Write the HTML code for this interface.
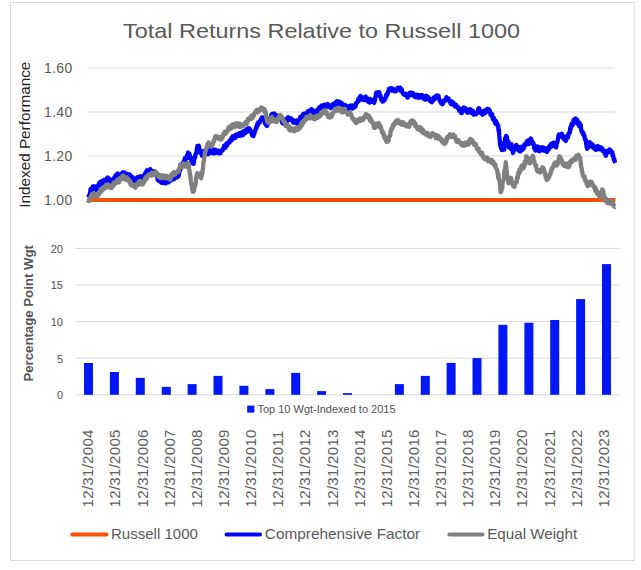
<!DOCTYPE html>
<html><head><meta charset="utf-8">
<style>
html,body{margin:0;padding:0;background:#fff;}
body{width:641px;height:570px;overflow:hidden;font-family:"Liberation Sans",sans-serif;}
svg{display:block;}
text{font-family:"Liberation Sans",sans-serif;}
.title{font-size:21px;fill:#595959;}
.yt{font-size:14px;fill:#595959;letter-spacing:0.3px;}
.yb{font-size:11px;fill:#505050;}
.xl{font-size:15px;fill:#606060;letter-spacing:0.3px;}
.lg{font-size:15px;fill:#595959;}
</style></head>
<body>
<svg width="641" height="570" viewBox="0 0 641 570">
<rect x="0" y="0" width="641" height="570" fill="#fff"/>
<rect x="10.5" y="2.5" width="623.5" height="558" fill="#fff" stroke="#d9d9d9" stroke-width="1"/>
<text class="title" x="321.5" y="38" text-anchor="middle" textLength="397" lengthAdjust="spacingAndGlyphs">Total Returns Relative to Russell 1000</text>

<!-- top chart gridlines -->
<g stroke="#d9d9d9" stroke-width="1">
<line x1="87.7" x2="615" y1="67.9" y2="67.9"/>
<line x1="87.7" x2="615" y1="112" y2="112"/>
<line x1="87.7" x2="615" y1="156" y2="156"/>
<line x1="87.7" x2="615" y1="200" y2="200"/>
</g>
<g class="yt" text-anchor="end">
<text class="yt" x="72.5" y="72.8">1.60</text>
<text class="yt" x="72.5" y="116.9">1.40</text>
<text class="yt" x="72.5" y="160.9">1.20</text>
<text class="yt" x="72.5" y="204.9">1.00</text>
</g>
<text transform="translate(29.8,207.7) rotate(-90)" font-size="15" fill="#1f1f1f" textLength="146" lengthAdjust="spacingAndGlyphs">Indexed Performance</text>

<line x1="88" x2="615.4" y1="200" y2="200" stroke="#ff5000" stroke-width="3.8"/>
<path d="M87.8,197.7 L88.2,197.2 L88.6,196.7 L89.0,195.9 L89.3,195.5 L89.7,193.7 L90.1,193.5 L90.5,189.1 L90.9,189.9 L91.3,189.4 L91.7,190.8 L92.1,189.3 L92.5,189.9 L92.8,186.5 L93.2,187.5 L93.6,186.2 L94.0,186.8 L94.4,187.5 L94.8,188.1 L95.2,186.5 L95.6,187.8 L96.0,188.5 L96.4,189.9 L96.8,190.8 L97.2,189.5 L97.6,186.5 L98.0,188.2 L98.3,185.0 L98.7,186.1 L99.1,183.6 L99.5,182.4 L99.9,185.0 L100.3,182.9 L100.7,181.6 L101.1,181.4 L101.5,184.1 L101.8,183.5 L102.2,181.1 L102.6,183.5 L103.0,181.6 L103.4,181.3 L103.8,181.8 L104.2,179.8 L104.6,182.4 L105.0,181.3 L105.4,182.1 L105.8,181.6 L106.1,179.2 L106.5,179.2 L106.9,178.3 L107.3,178.0 L107.7,177.5 L108.1,179.0 L108.5,178.8 L108.9,180.4 L109.2,178.7 L109.6,181.7 L110.0,181.0 L110.4,182.1 L110.8,181.2 L111.2,182.9 L111.6,181.5 L112.0,180.7 L112.3,181.1 L112.7,181.8 L113.1,179.1 L113.5,180.6 L113.9,181.7 L114.3,177.4 L114.7,179.5 L115.1,179.2 L115.5,175.3 L115.9,177.6 L116.3,175.3 L116.7,175.1 L117.1,175.5 L117.5,173.4 L117.9,173.7 L118.2,174.3 L118.6,177.3 L119.0,174.5 L119.4,176.8 L119.8,175.9 L120.2,177.2 L120.6,177.0 L121.0,174.4 L121.3,174.1 L121.7,174.5 L122.1,175.1 L122.5,172.3 L122.9,173.5 L123.3,174.6 L123.7,175.0 L124.1,175.5 L124.5,172.5 L124.8,176.2 L125.2,173.1 L125.6,174.3 L126.0,175.1 L126.4,175.4 L126.8,176.4 L127.2,174.1 L127.6,176.2 L128.0,174.6 L128.4,174.3 L128.8,174.1 L129.2,174.6 L129.6,174.5 L129.9,174.6 L130.3,175.4 L130.7,177.9 L131.1,179.6 L131.5,178.2 L131.9,177.2 L132.3,177.0 L132.7,180.8 L133.1,179.3 L133.4,179.0 L133.8,178.6 L134.2,180.2 L134.6,181.4 L135.0,180.2 L135.4,180.6 L135.8,180.0 L136.2,178.3 L136.6,181.2 L137.0,177.5 L137.4,179.0 L137.7,180.0 L138.1,177.0 L138.5,178.9 L138.9,179.4 L139.3,177.4 L139.7,178.0 L140.1,178.7 L140.5,176.2 L140.9,177.6 L141.2,176.6 L141.6,179.3 L142.0,177.3 L142.4,178.2 L142.8,177.3 L143.2,178.7 L143.6,177.5 L143.9,177.3 L144.3,174.6 L144.7,174.1 L145.1,174.3 L145.5,172.8 L145.9,172.4 L146.3,171.4 L146.7,171.5 L147.1,170.3 L147.4,170.8 L147.8,172.9 L148.2,172.4 L148.6,170.4 L149.0,171.0 L149.4,170.6 L149.8,170.0 L150.2,169.2 L150.6,169.9 L150.9,172.0 L151.3,172.4 L151.7,170.5 L152.1,172.2 L152.5,171.2 L152.9,172.4 L153.3,172.3 L153.7,172.3 L154.1,172.8 L154.4,171.5 L154.8,172.9 L155.2,171.5 L155.6,172.4 L156.0,173.7 L156.4,172.8 L156.8,175.3 L157.2,175.5 L157.6,179.7 L158.0,179.8 L158.4,180.6 L158.8,180.5 L159.2,178.5 L159.6,180.7 L160.0,179.8 L160.3,181.6 L160.7,181.0 L161.1,182.5 L161.5,182.1 L161.9,182.8 L162.3,181.3 L162.7,182.1 L163.1,182.6 L163.5,182.9 L163.9,183.1 L164.3,181.3 L164.7,183.1 L165.1,183.1 L165.4,182.3 L165.8,183.4 L166.2,183.2 L166.6,181.5 L167.0,181.5 L167.4,181.3 L167.8,179.8 L168.2,182.2 L168.7,182.3 L169.1,180.4 L169.5,181.0 L169.9,180.9 L170.3,180.7 L170.7,178.4 L171.2,180.5 L171.6,179.5 L172.0,179.0 L172.4,179.4 L172.8,178.3 L173.2,178.9 L173.6,179.3 L174.0,178.6 L174.3,178.7 L174.7,175.9 L175.1,176.2 L175.5,177.1 L175.9,177.7 L176.3,175.8 L176.7,176.7 L177.1,177.3 L177.6,177.0 L178.0,174.7 L178.4,176.3 L178.8,174.9 L179.2,172.7 L179.7,170.8 L180.1,169.9 L180.5,169.3 L180.9,167.5 L181.3,166.3 L181.8,164.5 L182.2,164.8 L182.6,163.7 L183.0,162.6 L183.4,163.2 L183.8,162.6 L184.2,160.2 L184.6,163.2 L185.0,158.0 L185.4,159.5 L185.8,159.5 L186.2,157.6 L186.6,157.5 L187.0,155.2 L187.3,158.2 L187.7,155.1 L188.1,152.5 L188.5,154.2 L188.9,155.5 L189.4,153.5 L189.8,156.5 L190.2,156.2 L190.7,158.1 L191.1,158.4 L191.5,161.7 L191.9,161.8 L192.3,160.6 L192.8,163.6 L193.2,163.6 L193.6,163.7 L194.0,160.9 L194.4,157.6 L194.9,157.9 L195.3,155.3 L195.7,153.7 L196.1,153.9 L196.6,152.0 L197.0,148.3 L197.4,145.8 L197.8,145.9 L198.2,149.5 L198.7,145.7 L199.1,147.1 L199.5,150.0 L199.9,151.2 L200.3,152.3 L200.8,150.7 L201.2,154.0 L201.6,154.2 L202.0,155.8 L202.4,152.8 L202.8,152.7 L203.1,151.2 L203.5,151.2 L203.9,154.3 L204.3,150.9 L204.7,151.1 L205.1,153.6 L205.5,153.4 L205.8,151.9 L206.2,150.2 L206.6,154.1 L207.0,151.6 L207.4,151.3 L207.8,150.9 L208.1,154.4 L208.5,152.0 L208.9,152.1 L209.3,150.9 L209.7,151.8 L210.1,149.9 L210.5,152.4 L210.9,151.4 L211.2,150.5 L211.6,152.9 L212.0,153.1 L212.4,148.8 L212.8,151.4 L213.2,151.1 L213.6,149.9 L214.0,153.4 L214.3,152.6 L214.7,149.8 L215.1,150.2 L215.5,149.8 L215.9,153.0 L216.3,150.3 L216.6,151.5 L217.0,151.0 L217.4,151.1 L217.8,151.9 L218.2,152.0 L218.6,152.8 L218.9,150.7 L219.3,153.4 L219.7,151.9 L220.1,153.1 L220.5,153.2 L220.9,151.9 L221.3,151.1 L221.7,151.3 L222.1,150.4 L222.5,149.4 L222.9,150.2 L223.3,148.9 L223.7,147.9 L224.1,145.7 L224.5,146.2 L224.9,146.5 L225.2,147.9 L225.6,147.4 L226.0,145.7 L226.4,143.3 L226.8,144.7 L227.2,145.2 L227.6,143.4 L228.0,143.4 L228.4,143.4 L228.8,142.6 L229.2,141.5 L229.6,142.6 L230.0,140.5 L230.4,139.7 L230.8,139.3 L231.2,140.7 L231.6,137.8 L232.0,137.8 L232.4,139.4 L232.8,136.1 L233.2,137.4 L233.6,138.5 L234.0,137.8 L234.3,136.6 L234.7,135.8 L235.1,137.5 L235.5,137.8 L235.9,134.7 L236.3,135.8 L236.6,135.9 L237.0,135.5 L237.4,135.3 L237.8,134.5 L238.2,133.8 L238.7,135.3 L239.1,136.0 L239.5,133.1 L239.9,133.6 L240.3,135.7 L240.8,135.5 L241.2,134.9 L241.6,134.2 L242.0,132.1 L242.4,134.5 L242.7,135.2 L243.1,135.0 L243.5,133.6 L243.9,130.8 L244.3,133.5 L244.7,130.9 L245.0,132.2 L245.4,133.1 L245.8,131.1 L246.2,131.6 L246.6,129.2 L247.0,129.5 L247.4,131.6 L247.7,128.4 L248.1,129.9 L248.5,128.8 L248.9,128.9 L249.3,128.4 L249.7,131.0 L250.1,129.6 L250.5,130.6 L250.9,132.4 L251.3,132.1 L251.7,132.8 L252.1,135.3 L252.5,135.4 L252.9,135.8 L253.4,136.1 L253.8,133.0 L254.2,134.2 L254.6,132.5 L255.0,130.5 L255.5,130.1 L255.9,128.2 L256.3,126.8 L256.7,127.8 L257.1,125.0 L257.5,123.2 L257.9,124.9 L258.3,122.2 L258.7,123.4 L259.1,122.3 L259.5,121.6 L259.9,122.6 L260.3,120.8 L260.7,120.5 L261.1,118.6 L261.4,119.2 L261.8,117.5 L262.2,118.9 L262.6,117.4 L263.0,118.4 L263.4,117.9 L263.9,119.2 L264.3,120.7 L264.7,122.1 L265.1,123.6 L265.5,122.2 L265.9,124.9 L266.2,125.3 L266.6,123.8 L267.0,126.0 L267.4,125.5 L267.8,122.1 L268.2,121.1 L268.6,121.7 L269.0,119.2 L269.4,119.0 L269.8,119.9 L270.2,118.0 L270.6,116.9 L270.9,118.2 L271.3,114.8 L271.7,116.9 L272.1,113.9 L272.5,115.1 L272.9,113.8 L273.3,116.8 L273.7,115.8 L274.1,114.0 L274.4,113.6 L274.8,116.9 L275.2,115.7 L275.6,115.1 L276.0,117.0 L276.4,115.0 L276.8,117.5 L277.1,117.1 L277.5,117.3 L277.9,119.0 L278.3,118.1 L278.7,118.9 L279.1,117.6 L279.5,117.5 L279.9,116.3 L280.3,117.4 L280.7,119.4 L281.1,119.5 L281.5,120.9 L281.9,120.3 L282.2,122.7 L282.6,122.2 L283.0,123.3 L283.4,123.7 L283.8,123.6 L284.2,123.8 L284.5,122.1 L284.9,120.6 L285.3,119.9 L285.7,121.3 L286.1,119.8 L286.5,118.8 L286.9,121.6 L287.3,119.7 L287.7,120.4 L288.1,117.1 L288.5,118.5 L288.9,118.2 L289.3,120.0 L289.7,119.3 L290.1,118.8 L290.4,119.3 L290.8,118.2 L291.2,118.7 L291.6,119.0 L292.0,120.6 L292.4,120.4 L292.8,120.6 L293.2,122.7 L293.6,120.2 L293.9,120.8 L294.3,121.1 L294.7,120.9 L295.1,121.6 L295.5,121.7 L295.9,122.9 L296.3,122.5 L296.7,120.5 L297.1,123.7 L297.4,121.3 L297.8,123.1 L298.2,121.9 L298.6,121.5 L299.0,120.6 L299.4,119.8 L299.8,121.0 L300.1,117.2 L300.5,118.6 L300.9,116.6 L301.3,116.7 L301.7,117.2 L302.1,117.2 L302.5,114.8 L302.9,114.8 L303.3,113.9 L303.7,114.5 L304.1,113.7 L304.5,115.1 L304.9,114.4 L305.3,116.3 L305.7,113.7 L306.1,113.2 L306.4,113.5 L306.8,112.6 L307.2,114.0 L307.6,112.8 L308.0,113.3 L308.4,110.9 L308.8,110.9 L309.1,112.3 L309.5,113.0 L309.9,111.6 L310.3,110.4 L310.7,110.4 L311.1,112.5 L311.5,109.1 L311.9,109.6 L312.2,112.7 L312.6,111.6 L313.0,110.5 L313.4,112.7 L313.8,112.8 L314.2,114.6 L314.6,112.7 L315.0,111.9 L315.4,110.9 L315.7,110.7 L316.1,113.7 L316.5,112.1 L316.9,112.0 L317.3,113.2 L317.7,109.3 L318.1,109.6 L318.5,108.3 L318.9,109.2 L319.3,107.4 L319.7,107.7 L320.1,108.1 L320.5,107.5 L320.9,107.0 L321.3,105.8 L321.6,105.5 L322.0,108.9 L322.4,105.7 L322.8,106.7 L323.2,106.5 L323.6,106.0 L324.0,106.5 L324.4,104.7 L324.8,105.5 L325.1,104.6 L325.5,106.2 L325.9,107.5 L326.3,106.2 L326.7,107.1 L327.1,105.7 L327.5,104.7 L327.9,104.0 L328.3,106.1 L328.7,106.0 L329.1,106.4 L329.4,105.7 L329.8,106.7 L330.2,107.2 L330.6,108.0 L331.0,106.5 L331.4,105.6 L331.8,105.9 L332.2,107.2 L332.6,104.7 L332.9,104.1 L333.3,104.7 L333.7,103.6 L334.1,105.0 L334.5,105.7 L334.9,105.6 L335.3,103.4 L335.6,102.4 L336.0,101.9 L336.4,102.2 L336.8,101.3 L337.2,102.6 L337.6,102.5 L338.0,103.2 L338.4,102.1 L338.8,101.6 L339.1,104.2 L339.5,101.8 L339.9,102.6 L340.3,103.1 L340.7,103.6 L341.1,104.2 L341.5,102.8 L341.9,104.1 L342.3,103.7 L342.7,105.5 L343.1,104.8 L343.4,106.2 L343.8,105.3 L344.2,105.8 L344.6,105.2 L345.0,105.0 L345.4,105.2 L345.8,107.0 L346.2,106.8 L346.6,108.3 L346.9,107.8 L347.3,108.1 L347.7,106.8 L348.1,108.1 L348.5,109.1 L348.9,107.3 L349.3,106.1 L349.7,105.7 L350.1,105.8 L350.5,106.0 L350.9,107.4 L351.3,106.5 L351.7,106.0 L352.0,105.5 L352.4,108.5 L352.7,108.1 L353.1,108.2 L353.5,105.9 L353.9,105.4 L354.3,105.2 L354.7,105.5 L355.1,106.9 L355.4,106.7 L355.8,104.8 L356.2,102.9 L356.6,103.1 L357.0,102.8 L357.4,101.6 L357.8,100.9 L358.2,99.1 L358.6,100.6 L358.9,100.9 L359.3,99.9 L359.7,96.9 L360.1,97.9 L360.5,95.9 L360.9,96.5 L361.3,97.8 L361.7,97.3 L362.1,99.7 L362.5,99.7 L362.9,97.6 L363.3,99.6 L363.7,98.4 L364.1,100.1 L364.5,97.9 L364.8,97.3 L365.2,96.8 L365.6,96.5 L366.0,98.1 L366.4,99.3 L366.8,98.4 L367.1,100.6 L367.5,99.8 L367.9,98.5 L368.3,101.8 L368.7,101.2 L369.1,100.8 L369.5,99.3 L369.9,102.7 L370.2,99.0 L370.6,101.0 L371.0,100.5 L371.4,102.0 L371.8,100.4 L372.2,100.4 L372.6,100.1 L373.0,100.8 L373.4,100.9 L373.8,102.6 L374.2,102.8 L374.6,100.6 L375.0,100.4 L375.4,96.7 L375.7,95.4 L376.1,93.3 L376.5,92.6 L376.9,94.4 L377.3,93.9 L377.7,93.9 L378.1,93.0 L378.5,92.2 L378.9,92.6 L379.3,92.4 L379.7,96.2 L380.0,96.1 L380.4,95.5 L380.8,97.2 L381.2,99.6 L381.6,98.2 L382.0,100.7 L382.4,101.5 L382.7,99.0 L383.1,101.4 L383.5,100.4 L383.9,99.1 L384.3,99.9 L384.7,100.0 L385.1,98.5 L385.5,98.6 L385.9,96.4 L386.3,94.4 L386.7,95.7 L387.1,94.9 L387.5,94.3 L387.9,91.9 L388.2,91.8 L388.6,90.6 L389.0,88.7 L389.4,88.9 L389.8,88.7 L390.2,88.3 L390.6,88.6 L391.0,89.5 L391.4,88.3 L391.7,90.5 L392.1,89.9 L392.5,90.3 L392.9,88.7 L393.3,89.8 L393.7,90.1 L394.0,90.0 L394.4,91.4 L394.8,90.2 L395.2,91.1 L395.6,91.2 L396.0,91.2 L396.4,90.4 L396.8,89.2 L397.2,88.2 L397.6,89.5 L398.0,87.7 L398.4,88.4 L398.8,89.0 L399.1,89.4 L399.5,89.0 L399.9,87.9 L400.3,87.8 L400.7,90.8 L401.1,89.0 L401.5,91.3 L401.9,89.5 L402.3,91.8 L402.7,93.1 L403.1,93.0 L403.5,94.4 L403.9,94.5 L404.2,94.0 L404.6,94.9 L405.0,94.8 L405.4,94.2 L405.8,94.9 L406.2,93.7 L406.6,95.1 L406.9,96.9 L407.3,94.6 L407.7,97.7 L408.1,96.4 L408.5,96.5 L408.9,95.4 L409.3,93.3 L409.6,94.1 L410.0,92.7 L410.4,93.8 L410.8,92.6 L411.2,94.5 L411.6,94.9 L412.0,94.2 L412.4,93.7 L412.8,93.1 L413.2,95.6 L413.6,95.5 L414.0,95.7 L414.4,96.5 L414.8,95.2 L415.2,97.2 L415.6,94.6 L415.9,95.0 L416.3,94.8 L416.7,96.2 L417.1,95.7 L417.5,97.5 L417.9,95.0 L418.2,97.0 L418.6,97.8 L419.0,96.0 L419.4,97.3 L419.8,95.3 L420.2,96.8 L420.6,97.4 L421.0,97.2 L421.4,96.2 L421.8,95.0 L422.2,95.2 L422.6,95.7 L423.0,96.7 L423.3,98.6 L423.7,96.8 L424.1,98.1 L424.5,97.2 L424.9,98.3 L425.3,99.6 L425.6,96.5 L426.0,95.8 L426.4,96.0 L426.8,97.6 L427.2,97.3 L427.6,98.1 L428.0,96.9 L428.4,97.3 L428.8,99.2 L429.1,99.8 L429.5,100.4 L429.9,100.9 L430.3,98.8 L430.7,100.8 L431.1,101.2 L431.5,102.1 L431.9,102.2 L432.3,99.3 L432.6,101.0 L433.0,99.8 L433.4,100.5 L433.8,97.5 L434.2,98.1 L434.6,98.7 L435.0,99.1 L435.4,97.5 L435.8,95.9 L436.1,96.1 L436.5,95.8 L436.9,95.4 L437.3,95.5 L437.7,97.1 L438.1,96.5 L438.5,95.7 L438.9,98.9 L439.3,99.5 L439.7,100.5 L440.1,101.1 L440.5,101.4 L440.9,102.9 L441.3,102.0 L441.7,103.9 L442.1,102.8 L442.6,104.2 L443.0,101.1 L443.4,102.8 L443.8,100.8 L444.2,100.1 L444.5,100.2 L444.9,100.3 L445.3,100.1 L445.7,100.4 L446.0,100.1 L446.4,97.1 L446.8,98.2 L447.2,98.3 L447.6,99.2 L448.1,99.0 L448.5,98.4 L448.9,100.7 L449.3,100.2 L449.7,101.8 L450.1,101.5 L450.6,103.7 L451.0,104.1 L451.4,102.8 L451.8,101.4 L452.2,104.3 L452.6,104.4 L453.0,103.0 L453.4,102.6 L453.8,104.2 L454.2,103.9 L454.7,105.6 L455.1,106.6 L455.5,104.8 L455.9,104.7 L456.3,105.7 L456.7,106.7 L457.1,106.2 L457.5,107.9 L457.9,107.7 L458.4,107.3 L458.8,108.1 L459.2,110.7 L459.6,110.0 L460.0,108.9 L460.4,110.9 L460.9,110.8 L461.3,113.1 L461.7,113.1 L462.1,110.3 L462.6,109.9 L463.0,108.1 L463.5,108.5 L463.9,107.4 L464.3,109.7 L464.7,108.6 L465.1,108.5 L465.5,111.0 L465.8,108.3 L466.2,109.9 L466.6,112.1 L467.0,109.5 L467.4,111.9 L467.8,112.8 L468.2,111.1 L468.5,109.7 L468.9,110.5 L469.3,111.1 L469.7,110.7 L470.0,111.1 L470.4,109.2 L470.8,110.8 L471.2,110.0 L471.6,113.2 L472.0,111.5 L472.4,111.9 L472.8,110.8 L473.3,111.8 L473.7,114.7 L474.1,114.0 L474.5,113.6 L474.9,112.2 L475.3,114.2 L475.7,113.3 L476.1,114.2 L476.5,112.4 L476.9,112.5 L477.2,113.2 L477.6,111.7 L478.0,111.1 L478.4,108.3 L478.8,109.6 L479.2,108.2 L479.6,111.5 L480.1,110.6 L480.5,112.8 L480.9,113.0 L481.4,113.8 L481.8,112.2 L482.2,113.1 L482.6,114.7 L483.0,113.6 L483.4,113.8 L483.8,110.8 L484.2,112.9 L484.6,111.3 L485.0,113.1 L485.5,113.0 L485.9,109.8 L486.3,110.3 L486.7,109.5 L487.1,110.0 L487.5,109.0 L487.9,109.6 L488.3,110.7 L488.7,109.2 L489.0,109.9 L489.4,111.5 L489.8,110.5 L490.2,112.2 L490.5,114.7 L490.9,115.2 L491.3,114.2 L491.7,113.9 L492.1,114.1 L492.6,118.0 L493.0,119.4 L493.4,118.8 L493.9,117.9 L494.3,119.1 L494.7,121.0 L495.1,123.1 L495.5,123.7 L495.9,120.8 L496.3,121.8 L496.6,123.3 L497.0,123.2 L497.4,125.5 L497.8,124.6 L498.2,125.6 L498.6,131.3 L498.9,129.5 L499.3,136.0 L499.7,139.3 L500.1,145.6 L500.4,145.5 L500.8,142.7 L501.1,148.4 L501.5,145.3 L501.9,150.0 L502.2,147.9 L502.6,148.1 L503.0,149.2 L503.4,149.6 L503.8,148.3 L504.2,149.6 L504.6,141.6 L504.9,142.3 L505.3,137.8 L505.7,138.2 L506.1,135.9 L506.5,139.9 L506.9,136.9 L507.2,141.9 L507.6,145.8 L508.0,146.1 L508.4,141.5 L508.9,147.5 L509.3,144.1 L509.8,144.4 L510.2,143.9 L510.6,146.1 L511.0,149.0 L511.4,144.1 L511.8,149.1 L512.2,148.0 L512.6,151.1 L513.0,153.0 L513.4,151.2 L513.9,148.5 L514.3,148.9 L514.7,148.7 L515.1,148.8 L515.5,149.2 L516.0,145.3 L516.4,145.0 L516.8,145.7 L517.2,147.3 L517.7,149.0 L518.1,149.6 L518.5,150.4 L518.9,147.4 L519.4,147.3 L519.8,149.6 L520.2,151.6 L520.6,146.9 L520.9,148.6 L521.3,149.8 L521.7,148.5 L522.1,147.5 L522.4,150.0 L522.8,146.5 L523.2,147.3 L523.6,147.2 L524.0,148.2 L524.5,144.2 L524.9,144.9 L525.3,145.2 L525.7,145.1 L526.1,142.9 L526.5,143.7 L527.0,141.2 L527.4,141.0 L527.8,142.7 L528.2,141.5 L528.6,140.1 L528.9,144.0 L529.3,140.0 L529.7,139.6 L530.1,141.9 L530.4,141.3 L530.8,138.4 L531.2,139.3 L531.6,142.0 L532.0,142.0 L532.5,141.8 L532.9,144.0 L533.3,143.0 L533.7,144.1 L534.2,148.3 L534.6,147.1 L535.0,148.4 L535.4,150.6 L535.8,146.9 L536.2,146.8 L536.6,146.5 L537.0,150.1 L537.5,149.3 L537.9,146.6 L538.3,146.8 L538.7,151.0 L539.1,149.4 L539.5,149.3 L539.9,151.1 L540.3,147.4 L540.7,149.3 L541.1,147.4 L541.5,149.6 L541.9,149.1 L542.3,149.0 L542.7,147.4 L543.1,148.4 L543.5,150.5 L543.9,147.7 L544.2,147.9 L544.6,150.6 L545.0,148.7 L545.4,149.0 L545.7,150.9 L546.1,151.4 L546.5,151.5 L546.9,151.9 L547.3,150.7 L547.7,147.8 L548.2,149.4 L548.6,149.7 L549.0,146.5 L549.4,148.4 L549.8,146.0 L550.2,146.4 L550.6,145.3 L551.0,143.9 L551.4,146.5 L551.8,145.2 L552.2,146.4 L552.6,144.4 L553.0,142.9 L553.4,142.8 L553.8,142.7 L554.2,143.3 L554.6,145.8 L555.0,143.8 L555.4,144.2 L555.8,146.0 L556.2,147.4 L556.6,143.4 L557.0,143.0 L557.4,141.9 L557.8,140.0 L558.2,137.3 L558.6,135.2 L559.0,134.4 L559.4,135.5 L559.8,135.8 L560.2,134.3 L560.6,134.3 L561.0,135.1 L561.4,136.9 L561.8,133.7 L562.1,134.5 L562.5,135.8 L562.9,136.2 L563.3,136.3 L563.7,138.9 L564.1,138.2 L564.5,139.4 L564.9,139.1 L565.3,140.3 L565.7,141.0 L566.0,140.6 L566.4,137.5 L566.8,136.0 L567.2,136.1 L567.5,135.9 L567.9,137.7 L568.3,135.3 L568.7,133.1 L569.0,133.6 L569.4,132.5 L569.8,132.8 L570.2,127.8 L570.5,129.7 L570.9,126.6 L571.3,126.2 L571.7,123.6 L572.1,125.2 L572.5,125.4 L572.9,123.4 L573.3,122.2 L573.7,119.7 L574.1,123.5 L574.5,120.4 L574.8,121.1 L575.2,121.1 L575.6,118.5 L576.0,119.2 L576.4,119.6 L576.8,120.1 L577.2,119.8 L577.6,120.5 L578.0,124.4 L578.4,124.2 L578.8,124.0 L579.2,126.3 L579.6,122.8 L580.0,124.1 L580.4,125.2 L580.8,125.1 L581.2,129.9 L581.6,130.6 L582.0,132.4 L582.4,132.0 L582.8,133.3 L583.2,132.5 L583.5,134.9 L583.9,135.0 L584.3,135.1 L584.7,138.6 L585.0,138.3 L585.4,140.3 L585.8,140.1 L586.2,143.6 L586.7,147.2 L587.1,148.8 L587.5,148.4 L587.9,147.5 L588.2,145.1 L588.6,147.5 L589.0,143.7 L589.4,144.9 L589.7,142.1 L590.1,143.3 L590.5,145.9 L590.9,144.2 L591.3,144.1 L591.7,143.7 L592.1,145.2 L592.5,145.4 L592.9,147.6 L593.2,145.9 L593.6,145.4 L594.0,147.0 L594.4,148.9 L594.8,147.2 L595.1,148.5 L595.5,148.4 L595.9,149.9 L596.2,147.5 L596.6,149.2 L597.0,148.0 L597.4,146.4 L597.8,146.0 L598.1,149.2 L598.5,147.4 L598.9,147.4 L599.3,147.4 L599.7,149.4 L600.0,148.2 L600.4,148.0 L600.8,147.3 L601.2,149.2 L601.6,148.4 L602.0,148.1 L602.4,149.5 L602.8,151.2 L603.2,151.2 L603.6,151.4 L604.0,150.4 L604.3,151.1 L604.7,153.4 L605.1,154.0 L605.5,152.0 L605.8,155.9 L606.2,154.4 L606.6,152.4 L607.0,152.0 L607.4,151.1 L607.8,151.9 L608.2,152.0 L608.6,152.3 L609.0,150.4 L609.4,149.4 L609.8,151.7 L610.2,149.8 L610.5,151.8 L610.9,150.9 L611.3,151.6 L611.7,152.4 L612.2,152.0 L612.6,155.8 L613.0,154.8 L613.5,157.5 L613.9,159.9 L614.4,159.6 L614.8,162.0 L615.2,163.0" fill="none" stroke="#0000ff" stroke-width="4.3" stroke-linejoin="round" stroke-linecap="butt"/>
<path d="M88.3,203.0 L88.8,201.0 L89.2,198.9 L89.7,199.0 L90.1,197.7 L90.5,196.8 L90.9,197.3 L91.3,197.0 L91.7,194.5 L92.0,193.9 L92.4,196.6 L92.8,194.1 L93.2,193.6 L93.6,196.1 L94.0,193.8 L94.4,194.0 L94.8,195.7 L95.2,194.6 L95.6,195.5 L96.0,194.0 L96.4,196.1 L96.8,197.3 L97.2,196.2 L97.6,195.7 L98.0,195.9 L98.4,195.1 L98.8,192.2 L99.1,194.2 L99.5,193.0 L99.9,191.3 L100.3,191.5 L100.7,189.2 L101.1,191.9 L101.5,189.9 L101.8,190.4 L102.2,190.5 L102.6,189.4 L103.0,189.7 L103.4,187.6 L103.8,187.0 L104.2,188.3 L104.6,186.8 L105.0,188.5 L105.4,188.0 L105.8,184.9 L106.1,184.8 L106.5,184.9 L106.9,187.6 L107.3,185.4 L107.7,185.9 L108.1,185.2 L108.5,184.6 L108.9,185.6 L109.3,185.4 L109.7,185.4 L110.0,186.5 L110.4,186.7 L110.8,188.1 L111.2,186.8 L111.6,187.0 L112.0,187.5 L112.4,186.7 L112.8,186.8 L113.2,185.1 L113.5,182.7 L113.9,184.9 L114.3,184.8 L114.7,184.1 L115.1,182.1 L115.5,182.3 L115.9,182.7 L116.3,180.7 L116.7,183.0 L117.0,181.9 L117.4,180.7 L117.8,179.7 L118.2,181.3 L118.6,182.3 L119.0,182.4 L119.4,178.6 L119.8,180.9 L120.2,179.0 L120.5,177.6 L120.9,177.8 L121.3,179.2 L121.7,179.2 L122.1,177.4 L122.5,175.7 L122.9,177.8 L123.3,175.7 L123.7,178.2 L124.0,176.8 L124.4,178.8 L124.8,179.2 L125.2,177.4 L125.6,177.8 L126.0,180.1 L126.4,177.9 L126.8,177.4 L127.2,179.8 L127.6,178.0 L128.0,179.1 L128.4,180.6 L128.8,180.6 L129.2,181.8 L129.6,180.5 L129.9,180.4 L130.3,183.9 L130.7,182.2 L131.1,185.1 L131.5,183.7 L131.9,185.6 L132.3,184.0 L132.7,184.7 L133.1,185.3 L133.4,186.2 L133.8,186.4 L134.2,186.6 L134.6,186.8 L135.0,186.9 L135.4,187.7 L135.8,185.7 L136.1,185.0 L136.5,185.7 L136.9,183.5 L137.3,183.3 L137.7,183.7 L138.1,185.2 L138.5,183.2 L138.9,183.1 L139.3,180.8 L139.7,182.0 L140.1,182.1 L140.5,182.8 L140.9,181.1 L141.2,183.7 L141.6,184.2 L142.0,182.4 L142.4,184.5 L142.8,184.3 L143.2,183.0 L143.6,183.1 L143.9,181.2 L144.3,181.8 L144.7,181.3 L145.1,177.9 L145.5,179.0 L145.9,176.8 L146.3,178.7 L146.7,179.3 L147.1,176.1 L147.4,176.4 L147.8,176.4 L148.2,174.9 L148.6,175.1 L149.0,174.5 L149.4,174.2 L149.8,174.4 L150.2,175.1 L150.6,173.9 L150.9,174.2 L151.3,175.6 L151.7,172.7 L152.1,174.6 L152.5,174.3 L152.9,175.1 L153.3,173.4 L153.7,173.0 L154.1,175.1 L154.4,172.9 L154.8,172.6 L155.2,173.5 L155.6,174.4 L156.0,172.1 L156.4,173.5 L156.8,173.2 L157.2,173.7 L157.6,176.0 L158.0,174.9 L158.4,176.9 L158.8,174.6 L159.2,175.7 L159.6,176.7 L160.0,177.3 L160.4,178.2 L160.9,176.5 L161.3,175.7 L161.7,175.3 L162.1,176.8 L162.5,175.5 L162.9,177.9 L163.4,178.0 L163.8,175.5 L164.2,176.7 L164.6,175.9 L165.0,178.0 L165.4,177.5 L165.8,178.2 L166.2,176.5 L166.6,175.8 L167.0,176.5 L167.4,177.4 L167.8,178.6 L168.2,176.7 L168.6,177.1 L168.9,177.5 L169.3,177.6 L169.7,177.7 L170.1,179.7 L170.5,178.2 L170.9,176.0 L171.3,174.5 L171.7,177.2 L172.0,176.0 L172.4,175.6 L172.8,172.8 L173.2,172.6 L173.6,174.7 L174.0,174.7 L174.4,172.1 L174.7,174.2 L175.1,174.6 L175.5,174.0 L175.9,173.5 L176.3,173.3 L176.7,172.2 L177.2,172.1 L177.6,171.5 L178.0,170.6 L178.4,172.0 L178.8,170.9 L179.2,168.3 L179.7,168.8 L180.1,164.4 L180.5,164.7 L180.9,166.3 L181.3,165.7 L181.8,166.6 L182.2,166.6 L182.6,166.8 L183.0,165.7 L183.4,163.3 L183.9,166.7 L184.3,164.2 L184.7,165.8 L185.1,164.7 L185.5,166.1 L185.8,165.3 L186.2,164.6 L186.6,166.7 L187.0,165.0 L187.4,163.6 L187.7,163.0 L188.1,165.5 L188.5,163.7 L188.9,166.2 L189.2,170.2 L189.6,170.9 L190.0,174.2 L190.4,175.8 L190.8,180.2 L191.3,184.4 L191.7,184.5 L192.1,188.9 L192.5,190.8 L192.8,191.9 L193.2,191.9 L193.6,191.1 L194.0,191.0 L194.4,185.7 L194.9,186.9 L195.3,184.7 L195.7,183.7 L196.1,177.4 L196.5,175.8 L196.9,174.2 L197.3,173.3 L197.8,174.7 L198.2,174.4 L198.6,174.8 L199.1,176.4 L199.5,175.3 L199.9,173.8 L200.3,174.8 L200.8,175.9 L201.2,178.4 L201.5,174.6 L201.9,172.3 L202.2,174.2 L202.6,170.0 L203.0,168.7 L203.4,162.3 L203.9,161.2 L204.3,157.4 L204.7,155.3 L205.1,152.6 L205.5,150.8 L206.0,150.3 L206.4,148.1 L206.8,145.8 L207.2,144.8 L207.6,143.6 L208.1,143.8 L208.5,142.4 L208.9,143.7 L209.3,144.6 L209.8,145.9 L210.2,145.0 L210.7,144.3 L211.1,146.8 L211.5,144.5 L211.9,144.5 L212.4,144.7 L212.8,144.7 L213.2,142.6 L213.6,140.8 L214.0,141.4 L214.5,139.4 L214.9,137.3 L215.3,136.3 L215.7,136.0 L216.1,136.6 L216.5,137.5 L216.8,136.6 L217.2,137.8 L217.6,137.1 L218.0,137.4 L218.4,136.8 L218.8,138.2 L219.2,139.2 L219.7,137.2 L220.1,138.9 L220.5,139.5 L220.9,138.6 L221.3,139.6 L221.7,139.2 L222.1,136.4 L222.5,137.7 L222.9,136.6 L223.3,134.0 L223.7,134.2 L224.1,133.7 L224.5,132.0 L224.9,134.2 L225.2,133.3 L225.6,133.7 L226.0,133.0 L226.4,132.1 L226.8,131.1 L227.2,131.6 L227.6,130.5 L228.0,128.4 L228.4,129.8 L228.8,127.2 L229.2,127.3 L229.6,129.3 L230.0,127.9 L230.4,125.9 L230.8,125.8 L231.2,125.6 L231.6,128.3 L232.0,125.4 L232.4,124.5 L232.8,127.4 L233.2,125.8 L233.6,124.3 L234.0,126.9 L234.3,126.2 L234.7,126.7 L235.1,127.0 L235.5,125.5 L235.9,126.2 L236.3,123.2 L236.6,125.9 L237.0,124.8 L237.4,124.7 L237.8,125.6 L238.2,123.4 L238.7,126.0 L239.1,126.8 L239.5,123.6 L239.9,124.7 L240.3,125.7 L240.8,126.8 L241.2,124.7 L241.6,125.8 L242.0,124.4 L242.4,124.5 L242.7,125.7 L243.1,126.0 L243.5,124.4 L243.9,124.2 L244.3,124.1 L244.7,123.7 L245.0,123.8 L245.4,122.3 L245.8,123.7 L246.2,123.0 L246.6,124.2 L247.0,121.4 L247.4,122.0 L247.7,119.1 L248.1,120.5 L248.5,120.0 L248.9,118.4 L249.3,118.9 L249.7,118.1 L250.1,117.8 L250.5,118.2 L250.9,119.0 L251.2,115.9 L251.6,115.5 L252.0,117.8 L252.4,118.3 L252.8,116.6 L253.2,116.3 L253.6,115.4 L254.0,115.8 L254.4,113.2 L254.8,112.8 L255.1,111.9 L255.5,112.7 L255.9,111.0 L256.3,111.1 L256.7,109.9 L257.1,111.6 L257.5,112.4 L257.9,109.8 L258.3,111.2 L258.7,109.9 L259.1,111.5 L259.5,110.0 L259.9,110.2 L260.3,108.8 L260.7,108.5 L261.1,107.6 L261.4,109.2 L261.8,108.7 L262.2,107.8 L262.6,108.9 L263.0,108.7 L263.4,108.9 L263.8,110.9 L264.3,108.9 L264.7,112.4 L265.1,110.8 L265.5,111.2 L265.9,113.9 L266.2,115.8 L266.6,119.5 L267.0,120.6 L267.4,122.1 L267.8,121.3 L268.2,121.3 L268.6,122.4 L269.0,123.2 L269.4,122.1 L269.8,120.9 L270.2,121.4 L270.5,121.5 L270.9,118.8 L271.3,117.2 L271.7,117.4 L272.1,116.9 L272.5,119.3 L272.9,119.7 L273.2,121.3 L273.6,121.4 L274.0,120.6 L274.4,119.7 L274.8,119.7 L275.2,120.0 L275.6,119.9 L276.0,122.0 L276.4,121.3 L276.8,122.0 L277.2,121.5 L277.5,118.4 L277.9,120.1 L278.3,117.3 L278.7,117.4 L279.1,116.9 L279.5,117.8 L279.9,115.1 L280.3,114.9 L280.7,117.4 L281.1,115.9 L281.5,116.0 L281.9,117.2 L282.2,118.9 L282.6,120.2 L283.0,118.5 L283.4,121.3 L283.8,121.2 L284.2,122.0 L284.6,122.7 L284.9,122.1 L285.3,124.1 L285.7,126.0 L286.1,124.3 L286.5,125.2 L286.9,125.8 L287.3,124.6 L287.7,125.5 L288.1,127.4 L288.4,125.7 L288.8,129.1 L289.2,129.6 L289.6,128.4 L290.0,127.1 L290.4,130.5 L290.8,128.5 L291.2,130.2 L291.6,130.3 L292.0,128.7 L292.4,130.4 L292.8,129.9 L293.2,130.4 L293.6,130.9 L294.0,128.7 L294.4,130.5 L294.7,131.2 L295.1,130.0 L295.5,129.3 L295.9,129.1 L296.3,127.6 L296.7,129.1 L297.1,128.5 L297.4,129.9 L297.8,129.8 L298.2,129.4 L298.6,127.9 L299.0,129.1 L299.4,128.9 L299.8,128.1 L300.1,125.6 L300.5,127.5 L300.9,125.9 L301.3,124.5 L301.7,122.6 L302.1,125.2 L302.5,121.7 L302.9,121.9 L303.3,122.9 L303.7,121.9 L304.1,121.3 L304.5,120.6 L304.9,120.8 L305.3,119.6 L305.7,118.7 L306.1,117.8 L306.4,117.0 L306.8,119.0 L307.2,118.8 L307.6,117.4 L308.0,117.5 L308.4,118.1 L308.8,116.6 L309.1,116.2 L309.5,116.5 L309.9,118.3 L310.3,115.0 L310.7,116.7 L311.1,116.9 L311.5,116.1 L311.9,118.3 L312.2,116.9 L312.6,117.0 L313.0,117.5 L313.4,118.2 L313.8,118.2 L314.2,119.1 L314.6,117.4 L315.0,119.2 L315.4,116.3 L315.7,116.8 L316.1,116.1 L316.5,116.0 L316.9,117.4 L317.3,118.2 L317.7,117.7 L318.1,115.3 L318.5,115.1 L318.9,115.6 L319.3,116.6 L319.7,116.6 L320.1,115.1 L320.5,115.7 L320.9,114.7 L321.3,112.6 L321.6,113.2 L322.0,112.0 L322.4,112.9 L322.8,112.6 L323.2,112.0 L323.6,110.9 L324.0,111.1 L324.4,113.1 L324.8,110.2 L325.1,113.2 L325.5,113.5 L325.9,113.7 L326.3,112.0 L326.7,112.2 L327.1,113.5 L327.5,114.3 L327.8,115.1 L328.2,117.1 L328.6,115.9 L329.0,116.7 L329.4,115.4 L329.8,117.7 L330.2,116.4 L330.6,117.0 L331.0,116.7 L331.4,116.9 L331.8,113.5 L332.1,115.8 L332.5,114.7 L332.9,113.4 L333.3,112.8 L333.7,112.4 L334.1,111.7 L334.5,110.2 L334.9,111.0 L335.2,108.6 L335.6,109.9 L336.0,109.9 L336.4,108.9 L336.8,108.8 L337.2,109.3 L337.6,110.9 L338.0,110.7 L338.4,108.0 L338.8,110.5 L339.2,110.0 L339.6,109.6 L340.0,108.1 L340.4,109.5 L340.8,109.2 L341.1,108.8 L341.5,110.7 L341.9,112.4 L342.3,110.3 L342.7,111.2 L343.1,112.2 L343.5,111.2 L343.9,108.7 L344.2,111.0 L344.6,109.7 L345.0,108.9 L345.4,111.5 L345.8,111.7 L346.2,112.7 L346.6,112.8 L347.0,112.3 L347.4,114.1 L347.8,114.7 L348.1,114.5 L348.5,113.0 L348.9,114.3 L349.3,113.4 L349.7,113.5 L350.1,112.6 L350.5,113.0 L350.8,113.8 L351.2,114.9 L351.6,115.3 L352.0,117.2 L352.3,118.6 L352.7,118.6 L353.1,119.1 L353.5,119.1 L353.9,120.3 L354.3,119.3 L354.7,120.2 L355.1,121.7 L355.4,120.6 L355.8,120.1 L356.2,123.2 L356.6,122.8 L357.0,122.3 L357.4,121.5 L357.8,121.2 L358.2,121.5 L358.6,121.5 L358.9,119.8 L359.3,118.6 L359.7,119.1 L360.1,119.9 L360.5,121.0 L360.9,118.5 L361.3,119.7 L361.7,118.7 L362.1,118.8 L362.5,118.6 L362.9,119.5 L363.3,119.9 L363.7,118.1 L364.1,116.9 L364.5,116.7 L364.9,116.3 L365.2,116.9 L365.6,114.7 L366.0,114.0 L366.4,115.2 L366.8,115.4 L367.2,115.6 L367.6,117.2 L367.9,115.1 L368.3,116.8 L368.7,117.2 L369.1,116.2 L369.5,118.4 L369.9,120.7 L370.3,118.5 L370.7,118.6 L371.1,120.6 L371.4,120.0 L371.8,122.3 L372.2,121.8 L372.6,123.0 L373.0,122.7 L373.4,123.6 L373.8,127.4 L374.2,127.7 L374.6,126.3 L375.0,127.8 L375.4,126.0 L375.7,127.3 L376.1,124.4 L376.5,124.6 L376.9,123.6 L377.3,123.7 L377.7,125.8 L378.1,125.1 L378.4,124.0 L378.8,123.1 L379.2,125.3 L379.6,124.6 L380.0,127.7 L380.4,127.6 L380.8,126.6 L381.2,128.0 L381.6,129.5 L382.0,132.4 L382.4,131.7 L382.8,131.8 L383.2,132.5 L383.6,135.3 L383.9,136.9 L384.3,134.8 L384.7,138.3 L385.1,137.1 L385.5,137.8 L385.9,139.8 L386.2,141.0 L386.6,141.9 L387.0,139.2 L387.4,141.8 L387.8,140.1 L388.2,140.4 L388.6,140.7 L389.0,136.6 L389.4,136.4 L389.8,136.3 L390.2,135.9 L390.6,131.3 L390.9,130.6 L391.3,129.3 L391.7,127.9 L392.1,128.4 L392.5,128.6 L392.9,124.9 L393.3,126.3 L393.7,125.5 L394.1,125.1 L394.5,123.0 L394.9,122.9 L395.3,124.0 L395.7,121.6 L396.1,121.5 L396.4,120.5 L396.8,122.3 L397.2,120.9 L397.6,120.7 L398.0,120.2 L398.4,120.2 L398.8,122.7 L399.1,122.7 L399.5,123.4 L399.9,122.6 L400.3,123.4 L400.7,123.8 L401.1,122.5 L401.5,124.6 L401.9,122.0 L402.3,123.7 L402.6,124.8 L403.0,124.5 L403.4,122.3 L403.8,122.8 L404.2,125.1 L404.6,123.8 L405.0,124.6 L405.4,125.7 L405.8,125.9 L406.2,124.6 L406.6,126.5 L406.9,126.1 L407.3,124.8 L407.7,125.2 L408.1,124.3 L408.5,126.2 L408.9,125.2 L409.3,126.8 L409.7,122.9 L410.1,124.1 L410.4,121.8 L410.8,121.1 L411.2,122.7 L411.6,121.5 L412.0,120.8 L412.4,120.4 L412.8,121.0 L413.1,123.2 L413.5,123.3 L413.9,121.4 L414.3,122.5 L414.7,123.8 L415.1,126.2 L415.5,123.9 L415.9,125.8 L416.3,125.8 L416.7,127.8 L417.1,127.7 L417.5,129.0 L417.9,128.5 L418.3,128.7 L418.7,127.5 L419.1,127.6 L419.4,127.3 L419.8,130.2 L420.2,127.6 L420.6,127.4 L421.0,129.3 L421.4,131.5 L421.8,128.9 L422.2,132.0 L422.6,129.3 L422.9,131.1 L423.3,130.6 L423.7,133.3 L424.1,132.4 L424.5,133.0 L424.9,133.3 L425.3,134.0 L425.6,134.6 L426.0,132.8 L426.4,134.0 L426.8,133.6 L427.2,134.0 L427.6,132.8 L428.0,135.8 L428.4,135.2 L428.8,136.3 L429.1,134.3 L429.5,135.9 L429.9,135.9 L430.3,136.3 L430.7,136.9 L431.1,134.1 L431.5,134.9 L431.9,135.1 L432.3,133.2 L432.7,134.8 L433.1,135.2 L433.5,134.0 L433.9,134.1 L434.3,135.3 L434.7,135.6 L435.1,134.5 L435.4,135.4 L435.8,138.2 L436.2,136.1 L436.6,137.1 L437.0,136.8 L437.4,135.5 L437.8,136.0 L438.1,135.8 L438.5,138.7 L438.9,138.0 L439.3,138.5 L439.7,137.1 L440.1,139.4 L440.5,138.5 L440.9,140.2 L441.2,139.2 L441.6,139.2 L442.0,141.7 L442.4,142.0 L442.8,141.0 L443.2,143.0 L443.6,141.4 L444.0,142.8 L444.4,141.6 L444.8,144.1 L445.2,142.5 L445.6,143.3 L446.0,140.2 L446.4,141.8 L446.7,138.2 L447.1,137.1 L447.5,137.9 L447.9,138.2 L448.3,136.1 L448.7,136.5 L449.1,135.9 L449.5,136.4 L449.9,134.2 L450.4,136.8 L450.8,135.0 L451.2,135.6 L451.6,135.3 L452.0,136.8 L452.4,136.8 L452.9,135.1 L453.3,134.4 L453.7,135.9 L454.1,135.6 L454.5,136.6 L454.8,135.8 L455.2,136.6 L455.6,139.4 L456.0,139.7 L456.3,141.2 L456.7,141.7 L457.1,140.4 L457.5,142.1 L457.9,140.6 L458.4,140.1 L458.8,141.0 L459.2,141.9 L459.6,142.4 L460.0,142.8 L460.4,142.4 L460.9,144.6 L461.3,142.8 L461.7,143.9 L462.1,143.9 L462.5,145.6 L462.9,145.4 L463.3,143.5 L463.7,143.4 L464.2,145.7 L464.6,142.7 L465.0,143.3 L465.4,144.9 L465.8,145.0 L466.2,145.0 L466.6,143.3 L467.0,142.5 L467.4,142.7 L467.7,144.5 L468.1,143.0 L468.5,144.5 L468.9,143.4 L469.3,143.8 L469.6,139.8 L470.0,140.0 L470.4,138.9 L470.8,140.4 L471.2,140.6 L471.6,140.6 L472.0,139.9 L472.4,142.2 L472.8,140.9 L473.3,142.2 L473.7,142.4 L474.1,144.9 L474.5,143.9 L474.9,143.7 L475.3,145.0 L475.7,143.9 L476.1,146.0 L476.6,147.3 L477.0,148.1 L477.4,149.7 L477.8,149.9 L478.2,148.4 L478.6,148.6 L479.1,151.5 L479.5,152.3 L479.9,151.8 L480.3,152.3 L480.7,154.0 L481.0,153.4 L481.4,152.9 L481.8,152.9 L482.2,152.8 L482.6,155.7 L483.0,157.1 L483.4,157.6 L483.7,156.4 L484.1,157.7 L484.5,157.5 L484.9,159.3 L485.3,159.1 L485.7,158.5 L486.1,158.0 L486.5,158.6 L487.0,157.5 L487.4,157.8 L487.8,159.9 L488.2,161.3 L488.6,159.8 L489.0,159.8 L489.4,159.6 L489.8,159.6 L490.1,160.2 L490.5,161.7 L490.9,160.6 L491.3,162.7 L491.7,159.8 L492.1,160.6 L492.5,161.6 L492.8,161.4 L493.2,163.2 L493.6,162.1 L494.0,164.3 L494.5,165.7 L494.9,165.5 L495.3,164.3 L495.7,167.4 L496.1,168.3 L496.6,169.1 L497.0,170.1 L497.4,171.0 L497.8,174.3 L498.1,177.7 L498.5,174.5 L498.9,179.6 L499.3,180.3 L499.7,181.8 L500.0,185.0 L500.4,189.6 L500.7,192.2 L501.1,191.7 L501.5,190.7 L501.9,186.0 L502.2,188.6 L502.6,182.2 L503.0,181.5 L503.4,180.3 L503.8,179.3 L504.2,173.1 L504.5,169.8 L504.9,170.9 L505.3,167.8 L505.7,162.1 L506.1,165.0 L506.5,169.4 L506.9,172.8 L507.3,178.1 L507.7,176.6 L508.1,178.1 L508.5,183.3 L508.8,178.5 L509.2,180.2 L509.6,182.6 L510.0,179.6 L510.4,177.8 L510.8,179.4 L511.2,178.1 L511.6,181.2 L512.1,182.8 L512.5,183.4 L513.0,185.9 L513.4,186.0 L513.8,183.3 L514.1,184.2 L514.5,186.8 L514.9,182.4 L515.3,182.8 L515.6,183.4 L516.0,182.0 L516.4,182.6 L516.8,181.1 L517.2,177.2 L517.5,176.3 L517.9,177.9 L518.3,172.5 L518.7,172.4 L519.1,173.5 L519.5,169.4 L519.9,172.3 L520.2,170.1 L520.6,169.2 L521.0,167.8 L521.4,166.0 L521.8,165.5 L522.2,168.5 L522.7,165.7 L523.1,165.6 L523.5,168.3 L523.9,166.7 L524.3,166.9 L524.7,161.7 L525.1,164.4 L525.5,161.0 L525.9,158.8 L526.3,156.1 L526.7,156.4 L527.1,156.9 L527.5,160.5 L527.9,158.3 L528.2,158.6 L528.6,159.7 L529.0,160.5 L529.4,163.2 L529.8,161.7 L530.1,163.4 L530.5,158.7 L530.9,158.4 L531.3,160.9 L531.6,160.3 L532.0,159.4 L532.4,156.4 L532.8,155.8 L533.1,156.8 L533.5,158.0 L533.9,161.7 L534.3,161.3 L534.8,164.0 L535.2,164.0 L535.6,166.5 L536.0,165.2 L536.4,167.5 L536.9,170.2 L537.3,171.2 L537.7,171.1 L538.1,171.6 L538.5,171.3 L538.9,171.5 L539.2,171.0 L539.6,171.3 L540.0,172.5 L540.4,169.7 L540.7,171.1 L541.1,170.6 L541.5,171.6 L541.9,170.7 L542.3,167.5 L542.7,169.9 L543.1,167.5 L543.5,170.2 L543.9,169.1 L544.3,170.9 L544.7,172.0 L545.1,174.6 L545.5,173.9 L545.9,178.4 L546.3,177.3 L546.7,180.0 L547.1,179.6 L547.5,177.4 L547.9,176.3 L548.3,178.8 L548.7,177.7 L549.0,177.7 L549.4,175.8 L549.8,174.4 L550.2,173.6 L550.6,173.7 L551.0,170.3 L551.3,171.1 L551.7,169.8 L552.1,167.8 L552.5,168.7 L552.8,166.7 L553.2,166.5 L553.6,165.7 L554.0,164.4 L554.4,163.4 L554.8,162.8 L555.2,162.5 L555.6,163.3 L556.0,165.3 L556.4,165.5 L556.8,165.6 L557.2,164.5 L557.6,164.6 L558.1,160.9 L558.5,162.5 L558.9,158.2 L559.4,156.3 L559.8,156.5 L560.2,157.5 L560.6,159.5 L561.0,158.8 L561.5,161.1 L561.9,160.6 L562.3,162.5 L562.7,164.7 L563.0,162.8 L563.4,163.2 L563.8,163.6 L564.2,165.3 L564.5,166.0 L564.9,164.4 L565.3,164.5 L565.7,164.5 L566.0,165.5 L566.4,163.4 L566.8,165.2 L567.2,167.2 L567.5,167.2 L567.9,164.4 L568.3,166.5 L568.7,167.2 L569.0,164.5 L569.4,166.3 L569.8,162.9 L570.2,161.6 L570.5,162.2 L570.9,162.9 L571.3,160.5 L571.7,160.1 L572.1,161.8 L572.5,161.0 L572.8,159.4 L573.2,159.0 L573.6,159.8 L574.0,159.2 L574.4,159.5 L574.8,158.5 L575.2,159.2 L575.6,159.7 L576.0,158.0 L576.4,155.7 L576.8,155.6 L577.2,155.8 L577.6,156.3 L578.0,155.4 L578.4,154.7 L578.8,155.3 L579.2,157.2 L579.6,157.9 L580.0,157.7 L580.4,160.5 L580.8,163.1 L581.2,167.1 L581.6,167.9 L582.0,171.2 L582.4,172.6 L582.8,174.9 L583.1,175.8 L583.5,177.0 L583.9,175.9 L584.3,177.7 L584.6,176.3 L585.0,180.3 L585.4,179.6 L585.8,180.0 L586.2,181.2 L586.6,183.9 L586.9,182.2 L587.3,182.7 L587.7,186.2 L588.1,185.7 L588.5,185.7 L589.0,183.2 L589.4,182.6 L589.8,183.6 L590.2,181.8 L590.6,184.8 L591.1,181.7 L591.5,182.7 L591.9,182.4 L592.2,183.5 L592.6,184.6 L593.0,184.9 L593.4,186.3 L593.8,187.1 L594.1,186.8 L594.5,187.7 L594.9,186.8 L595.2,190.8 L595.6,190.3 L596.0,188.6 L596.4,190.6 L596.8,192.4 L597.1,193.9 L597.5,192.7 L597.9,191.9 L598.3,192.5 L598.8,195.1 L599.2,195.7 L599.6,196.8 L600.0,197.4 L600.4,196.3 L600.7,193.5 L601.1,192.9 L601.5,192.7 L601.9,192.9 L602.2,189.5 L602.6,189.7 L603.0,191.1 L603.4,191.8 L603.8,195.7 L604.2,195.2 L604.6,198.8 L605.0,200.8 L605.4,199.6 L605.7,200.2 L606.1,198.7 L606.5,199.7 L606.9,200.9 L607.2,202.8 L607.6,201.8 L608.0,201.9 L608.4,201.0 L608.7,203.6 L609.1,202.4 L609.5,201.9 L609.9,200.7 L610.2,201.0 L610.6,201.8 L611.0,203.6 L611.4,201.0 L611.8,202.9 L612.3,203.5 L612.7,202.8 L613.1,204.7 L613.5,204.0 L613.9,206.3 L614.4,206.8 L614.8,207.0 L615.2,206.8" fill="none" stroke="#808080" stroke-width="4.3" stroke-linejoin="round" stroke-linecap="butt"/>

<!-- bottom chart -->
<g stroke="#d9d9d9" stroke-width="1">
<line x1="75.6" x2="619.5" y1="248.4" y2="248.4"/>
<line x1="75.6" x2="619.5" y1="285" y2="285"/>
<line x1="75.6" x2="619.5" y1="321.6" y2="321.6"/>
<line x1="75.6" x2="619.5" y1="358.2" y2="358.2"/>
<line x1="75.6" x2="619.5" y1="394.8" y2="394.8"/>
</g>
<g text-anchor="end">
<text class="yb" x="63" y="252.7">20</text>
<text class="yb" x="63" y="289.3">15</text>
<text class="yb" x="63" y="325.9">10</text>
<text class="yb" x="63" y="362.5">5</text>
<text class="yb" x="63" y="399.1">0</text>
</g>
<text transform="translate(33,381.6) rotate(-90)" font-size="13.3" font-weight="bold" fill="#555" textLength="136.5" lengthAdjust="spacingAndGlyphs">Percentage Point Wgt</text>
<rect x="84.0" y="363.0" width="9" height="31.8" fill="#0018f9"/>
<rect x="109.9" y="372.0" width="9" height="22.8" fill="#0018f9"/>
<rect x="135.8" y="377.9" width="9" height="16.9" fill="#0018f9"/>
<rect x="161.8" y="386.9" width="9" height="7.9" fill="#0018f9"/>
<rect x="187.6" y="384.1" width="9" height="10.7" fill="#0018f9"/>
<rect x="213.5" y="375.9" width="9" height="18.9" fill="#0018f9"/>
<rect x="239.4" y="385.8" width="9" height="9.0" fill="#0018f9"/>
<rect x="265.4" y="389.1" width="9" height="5.7" fill="#0018f9"/>
<rect x="291.2" y="372.9" width="9" height="21.9" fill="#0018f9"/>
<rect x="317.1" y="391.1" width="9" height="3.7" fill="#0018f9"/>
<rect x="343.0" y="393.1" width="9" height="1.7" fill="#0018f9"/>
<rect x="394.9" y="384.1" width="9" height="10.7" fill="#0018f9"/>
<rect x="420.8" y="375.9" width="9" height="18.9" fill="#0018f9"/>
<rect x="446.6" y="362.9" width="9" height="31.9" fill="#0018f9"/>
<rect x="472.5" y="358.1" width="9" height="36.7" fill="#0018f9"/>
<rect x="498.4" y="324.8" width="9" height="70.0" fill="#0018f9"/>
<rect x="524.4" y="322.8" width="9" height="72.0" fill="#0018f9"/>
<rect x="550.2" y="320.0" width="9" height="74.8" fill="#0018f9"/>
<rect x="576.1" y="299.1" width="9" height="95.7" fill="#0018f9"/>
<rect x="602.0" y="264.1" width="9" height="130.7" fill="#0018f9"/>

<rect x="247.2" y="405.6" width="7.2" height="7" fill="#0018f9"/>
<text x="257.5" y="412.8" font-size="10.3" fill="#505050" textLength="138" lengthAdjust="spacingAndGlyphs">Top 10 Wgt-Indexed to 2015</text>

<text class="xl" transform="translate(93.2,507.4) rotate(-90)">12/31/2004</text>
<text class="xl" transform="translate(120.3,507.4) rotate(-90)">12/31/2005</text>
<text class="xl" transform="translate(147.5,507.4) rotate(-90)">12/31/2006</text>
<text class="xl" transform="translate(174.6,507.4) rotate(-90)">12/31/2007</text>
<text class="xl" transform="translate(201.8,507.4) rotate(-90)">12/31/2008</text>
<text class="xl" transform="translate(228.9,507.4) rotate(-90)">12/31/2009</text>
<text class="xl" transform="translate(256.0,507.4) rotate(-90)">12/31/2010</text>
<text class="xl" transform="translate(283.2,507.4) rotate(-90)">12/31/2011</text>
<text class="xl" transform="translate(310.3,507.4) rotate(-90)">12/31/2012</text>
<text class="xl" transform="translate(337.5,507.4) rotate(-90)">12/31/2013</text>
<text class="xl" transform="translate(364.6,507.4) rotate(-90)">12/31/2014</text>
<text class="xl" transform="translate(391.7,507.4) rotate(-90)">12/31/2015</text>
<text class="xl" transform="translate(418.9,507.4) rotate(-90)">12/31/2016</text>
<text class="xl" transform="translate(446.0,507.4) rotate(-90)">12/31/2017</text>
<text class="xl" transform="translate(473.2,507.4) rotate(-90)">12/31/2018</text>
<text class="xl" transform="translate(500.3,507.4) rotate(-90)">12/31/2019</text>
<text class="xl" transform="translate(527.4,507.4) rotate(-90)">12/31/2020</text>
<text class="xl" transform="translate(554.6,507.4) rotate(-90)">12/31/2021</text>
<text class="xl" transform="translate(581.7,507.4) rotate(-90)">12/31/2022</text>
<text class="xl" transform="translate(608.9,507.4) rotate(-90)">12/31/2023</text>


<!-- legend -->
<g stroke-width="4" stroke-linecap="round">
<line x1="72.3" x2="106.4" y1="534.4" y2="534.4" stroke="#ff5000"/>
<line x1="226.6" x2="260" y1="534.4" y2="534.4" stroke="#0000ff"/>
<line x1="449.4" x2="482.5" y1="534.4" y2="534.4" stroke="#808080"/>
</g>
<text class="lg" x="110.9" y="539.3" textLength="87" lengthAdjust="spacingAndGlyphs">Russell 1000</text>
<text class="lg" x="264.8" y="539.3" textLength="155.4" lengthAdjust="spacingAndGlyphs">Comprehensive Factor</text>
<text class="lg" x="487.2" y="539.3" textLength="90" lengthAdjust="spacingAndGlyphs">Equal Weight</text>
</svg>
</body></html>
